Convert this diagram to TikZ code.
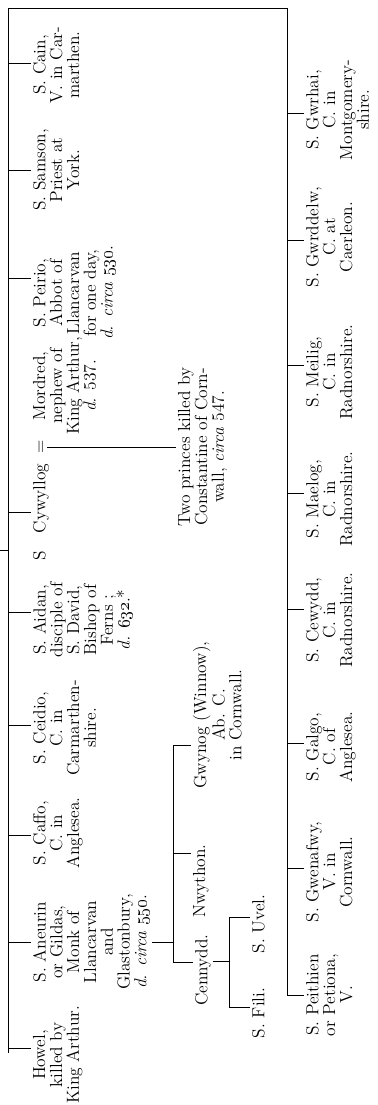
\documentclass[tikz,border=0pt]{standalone}
\begin{document}
\begin{tikzpicture}[x=0.63pt, y=-0.63pt, line width=0.6pt,
  saint/.style={rotate=90, anchor=north, align=center, inner sep=1pt,
    font=\fontsize{11}{10.6}\selectfont}]
\useasboundingbox (0,0) rectangle (378,1105);
\coordinate (ltop) at (8,8);
\coordinate (rtop) at (287,8);
\node[saint] (cain) at (31,65) {S. Cain,\\V. in Car-\\marthen.};
\node[saint] (samson) at (31,170) {S. Samson,\\Priest at\\York.};
\node[saint] (peirio) at (31,293) {S. Peirio,\\Abbot of\\Llancarvan\\for one day,\\\textit{d. circa} \oldstylenums{530}.};
\node[saint] (mordred) at (31,386) {Mordred,\\nephew of\\King Arthur,\\\textit{d.} 537.};
\node[saint] (eqsign) at (31,447) {\vphantom{d}=};
\node[saint] (cywyllog) at (31,512) {S\quad Cywyllog};
\node[saint] (aidan) at (31,620) {S. Aidan,\\disciple of\\S. David,\\Bishop of\\Ferns ;\\\textit{d.} \oldstylenums{632}.*};
\node[saint] (ceidio) at (31,728) {S. Ceidio,\\C. in\\Carmarthen-\\shire.};
\node[saint] (caffo) at (31,833) {S. Caffo,\\C. in\\Anglesea.};
\node[saint] (aneurin) at (31,942) {S. Aneurin\\or Gildas,\\Monk of\\Llancarvan\\and\\Glastonbury,\\\textit{d. circa} \oldstylenums{550}.};
\node[saint] (howel) at (31,1055) {Howel,\\killed by\\King Arthur.};
\node[saint] (princes) at (176,447) {Two princes killed by\\Constantine of Corn-\\wall, \textit{circa} 547.};
\node[saint] (gwynog) at (191,715) {Gwynog (Winnow),\\Ab. C.\\in Cornwall.};
\node[saint] (nwython) at (191,881) {Nwython.};
\node[saint] (cennydd) at (193,970) {Cennydd.};
\node[saint] (uvel) at (250,924) {S. Uvel.};
\node[saint] (fili) at (250,1013) {S. Fili.};
\node[saint] (gwrhai) at (304,110) {S. Gwrhai,\\C. in\\Montgomery-\\shire.};
\node[saint] (gwrddelw) at (304,237) {S. Gwrddelw,\\C. at\\Caerleon.};
\node[saint] (meilig) at (304,372) {S. Meilig,\\C. in\\Radnorshire.};
\node[saint] (maelog) at (304,499) {S. Maelog,\\C. in\\Radnorshire.};
\node[saint] (cewydd) at (304,620) {S. Cewydd,\\C. in\\Radnorshire.};
\node[saint] (galgo) at (304,747) {S. Galgo,\\C. of\\Anglesea.};
\node[saint] (gwenafwy) at (304,872) {S. Gwenafwy,\\V. in\\Cornwall.};
\node[saint] (peithien) at (304,995) {S. Peithien\\or Petiona,\\V.};
\draw (0,550) -- (8,550);
\draw (8,1053) -- (ltop) -- (rtop) -- (287,995);
\foreach \p/\t in {cain/63, samson/170, peirio/278, cywyllog/512, aidan/612,
    ceidio/725, caffo/835, aneurin/942, howel/1048}
{
	\coordinate (t\p) at (8,\t);
	\draw (t\p) -- (t\p -| \p.north);
}
\foreach \p/\t in {gwrhai/113, gwrddelw/240, meilig/365, maelog/493, cewydd/609,
    galgo/743, gwenafwy/868, peithien/995}
{
	\coordinate (t\p) at (287,\t);
	\draw (t\p) -- (t\p -| \p.north);
}
\draw (eqsign.south) -- (princes.north);
\coordinate (gbar) at (173,745);
\coordinate (cbar) at (173,962);
\draw (gbar) -- (cbar);
\draw (aneurin.south) -- (aneurin.south -| gbar);
\foreach \p/\t in {gwynog/745, nwython/853, cennydd/962}
{
	\coordinate (t\p) at (173,\t);
	\draw (t\p) -- (t\p -| \p.north);
}
\coordinate (fbar) at (229,961);
\draw (cennydd.south |- fbar) -- (fbar);
\draw (229,917) -- (229,1007);
\foreach \p/\t in {uvel/917, fili/1007}
{
	\coordinate (t\p) at (229,\t);
	\draw (t\p) -- (t\p -| \p.north);
}
\end{tikzpicture}
\end{document}
